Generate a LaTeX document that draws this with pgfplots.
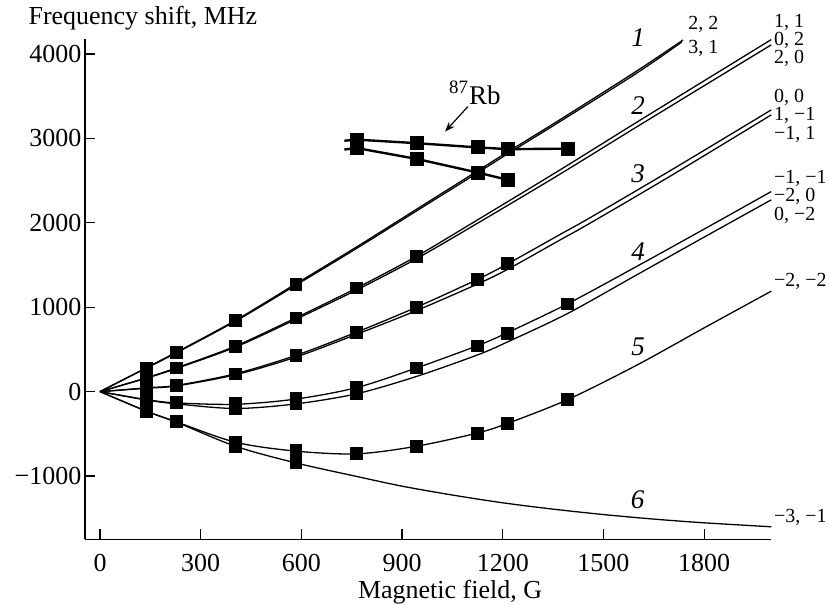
\documentclass[border=0pt]{standalone}
\usepackage{fontspec}
\setmainfont{Liberation Serif}
\usepackage{pgfplots}
\pgfplotsset{compat=1.18}
\usetikzlibrary{arrows.meta}

\begin{document}
\begin{tikzpicture}
\begin{axis}[
  scale only axis, width=343.5pt, height=250.5pt,
  xmin=-45, xmax=2000, ymin=-1751, ymax=4178,
  axis x line=bottom, axis y line=left,
  axis line style={-, line width=0.6pt},
  tick align=inside, major tick length=5pt,
  tick style={black, line width=0.6pt},
  xtick={0,300,600,900,1200,1500,1800},
  xticklabels={0,300,600,900,1200,1500,1800},
  ytick={-1000,0,1000,2000,3000,4000},
  yticklabels={−1000,0,1000,2000,3000,4000},
  every tick label/.append style={font=\fontsize{13}{15}\selectfont},
  xticklabel style={font=\fontsize{13}{15}\selectfont, yshift=-4pt},
  yticklabel style={font=\fontsize{13}{15}\selectfont, xshift=1.7pt},
  clip=false,
  every axis plot/.append style={black, line width=0.65pt},
]
% frame of the whole picture
\path (axis cs:-298,-2521) rectangle (axis cs:2175,4639);
% theory curves, group 1 (2,2 and 3,1)
\addplot[smooth] coordinates {(0,0) (139,285) (228,468) (404,845) (584,1278) (765,1715) (945,2165) (1125,2615) (1215,2840) (1370,3220) (1600,3800) (1737,4165)};
\addplot[smooth] coordinates {(0,0) (139,280) (228,460) (404,835) (584,1262) (765,1698) (945,2145) (1125,2592) (1215,2818) (1370,3198) (1600,3775) (1733,4140)};
% group 2
\addplot[smooth] coordinates {(0,0) (139,165) (228,282) (404,540) (584,875) (765,1228) (943,1603) (1125,2035) (1370,2625) (1609,3215) (2000,4170)};
\addplot[smooth] coordinates {(0,0) (139,160) (228,275) (404,528) (584,858) (765,1205) (943,1575) (1125,1995) (1370,2575) (1609,3160) (2000,4108)};
% group 3
\addplot[smooth] coordinates {(0,0) (139,45) (228,74) (404,212) (584,430) (765,705) (943,1000) (1125,1330) (1215,1515) (1370,1860) (1460,2060) (1700,2620) (2000,3337)};
\addplot[smooth] coordinates {(0,0) (139,40) (228,68) (404,200) (584,410) (765,680) (943,960) (1125,1275) (1215,1450) (1370,1795) (1460,1995) (1700,2555) (2000,3278)};
% group 4
\addplot[smooth] coordinates {(0,0) (139,-95) (228,-134) (404,-150) (584,-88) (765,48) (943,280) (1125,545) (1215,700) (1393,1040) (1600,1485) (1800,1925) (2000,2370)};
\addplot[smooth] coordinates {(0,0) (139,-100) (228,-145) (404,-200) (584,-145) (765,-25) (943,180) (1125,435) (1215,590) (1393,925) (1600,1385) (1800,1830) (2000,2272)};
% group 5
\addplot[smooth] coordinates {(0,0) (139,-233) (228,-359) (404,-600) (584,-705) (765,-737) (943,-647) (1125,-490) (1215,-375) (1393,-95) (1600,315) (1800,755) (2000,1190)};
% group 6
\addplot[smooth] coordinates {(0,0) (139,-233) (228,-362) (404,-648) (584,-845) (765,-1005) (900,-1120) (1050,-1225) (1200,-1317) (1350,-1392) (1500,-1456) (1650,-1510) (1800,-1554) (2000,-1601)};
% measured points
\addplot[only marks, mark=square*, mark size=2.9pt] coordinates {
 (139,270) (139,160) (139,45) (139,-95) (139,-233)
 (228,465) (228,280) (228,71) (228,-134) (228,-359)
 (404,840) (404,536) (404,209) (404,-145) (404,-200) (404,-600) (404,-650)
 (584,1274) (584,872) (584,426) (584,-85) (584,-146) (584,-700) (584,-844)
 (765,1227) (765,702) (765,44) (765,-24) (765,-737)
 (943,1601) (943,998) (943,280) (943,-647)
 (1125,1325) (1125,540) (1125,-495)
 (1215,1515) (1215,690) (1215,-380)
 (1393,1038) (1393,-95)};
% 87Rb
\addplot[line width=1.2pt, mark=square*, mark size=2.9pt, mark indices={2,3,4,5,6}] coordinates {(728,2972) (765,2985) (943,2943) (1125,2893) (1215,2872) (1395,2878)};
\addplot[line width=1.2pt, mark=square*, mark size=2.9pt, mark indices={2,3,4,5}] coordinates {(728,2868) (765,2885) (943,2757) (1125,2595) (1215,2509)};
\draw[-{Stealth[length=5pt]}, line width=0.6pt] (axis cs:1096,3376) -- (axis cs:1028,3080);
\node[font=\fontsize{13.5}{15}\selectfont] at (axis cs:1117,3538) {\textsuperscript{87}Rb};
% curve numbers
\begin{scope}[every node/.style={font=\fontsize{13.5}{15}\selectfont\itshape}]
\node at (axis cs:1603,4189) {1};
\node at (axis cs:1603,3385) {2};
\node at (axis cs:1603,2580) {3};
\node at (axis cs:1603,1657) {4};
\node at (axis cs:1603,533) {5};
\node at (axis cs:1602,-1278) {6};
\end{scope}
% state labels
\begin{scope}[every node/.style={font=\fontsize{10}{12}\selectfont, anchor=west, inner sep=0pt}]
\node at (axis cs:1752,4355) {2, 2};
\node at (axis cs:1752,4071) {3, 1};
\node at (axis cs:2007,4379) {1, 1};
\node at (axis cs:2007,4166) {0, 2};
\node at (axis cs:2007,3953) {2, 0};
\node at (axis cs:2007,3491) {0, 0};
\node at (axis cs:2007,3266) {1, −1};
\node at (axis cs:2007,3041) {−1, 1};
\node at (axis cs:2007,2521) {−1, −1};
\node at (axis cs:2007,2308) {−2, 0};
\node at (axis cs:2007,2083) {0, −2};
\node at (axis cs:2007,1302) {−2, −2};
\node at (axis cs:2007,-1491) {−3, −1};
\end{scope}
% axis titles
\node[anchor=west, inner sep=0pt, font=\fontsize{13}{15}\selectfont] at (axis cs:-214,4426) {Frequency shift, MHz};
\node[anchor=base, inner sep=0pt, font=\fontsize{13}{15}\selectfont] at (axis cs:1043,-2450) {Magnetic field, G};
\end{axis}
\end{tikzpicture}
\end{document}
